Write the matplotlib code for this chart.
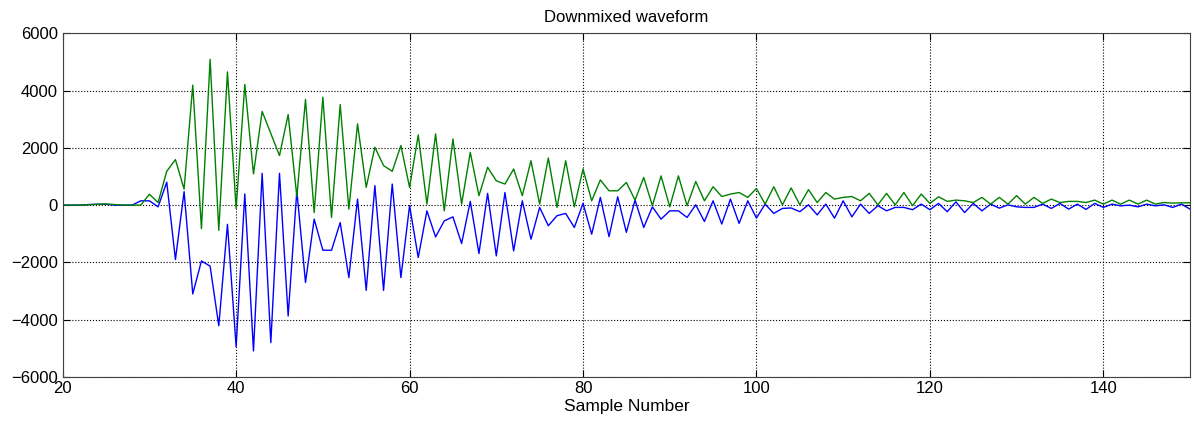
import matplotlib
matplotlib.use("Agg")
import matplotlib.pyplot as plt
import numpy as np

plt.rcParams['font.family'] = ['Liberation Sans', 'DejaVu Sans']

# sample index 20..150
samples = np.arange(20, 151)

# in chunks of samples
blue = (
    [0, 0, 0, 20, 30, 30, 0, 0, 0]                                       # 20-28
    + [150, 150, -60, 800, -1900, 470, -3100, -1950, -2130, -4210, -670,
       -4940, 390, -5090, 1110]                                           # 29-43
    + [-4800, 1110, -3870, 500, -2700, -490, -1575, -1575, -610, -2530,
       210, -2975, 680, -2975, 735, -2530, -20, -1830, -200]              # 44-62
    + [-1110, -550, -410, -1340, 130, -1690, 410, -1770, 440, -1600, 150,
       -1190, -80, -720, -370, -290, -780, 60, -1015, 270]                # 63-82
    + [-1100, 290, -950, 175, -780, -60, -490, -200, -200, -430, 10, -570,
       150, -660, 210, -640, 150, -450, 35, -290, -115, -100]             # 83-104
    + [-230, 10, -340, 35, -455, 150, -410, 35, -290, -20, -200, -80, -80,
       -160, 35, -160, 60, -230, 115, -260, 60]                           # 105-125
    + [-200, 35, -105, 10, -60, -80, -80, 35, -115, 60, -140, 35, -150, 60,
       -80, 35, -25, 0, -60, 35, -25, 10, -80, 35, -140]                  # 126-150
)

green = (
    [0, 0, 0, 10, 30, 40, 20, 0, 0]                                      # 20-28
    + [0, 380, 90, 1180, 1590, 560, 4190, -820, 5090, -880, 4650, -120,
       4210, 1090, 3270]                                                  # 29-43
    + [2500, 1730, 3160, 300, 3690, -260, 3770, -430, 3510, -140, 2835,
       620, 2020, 1380, 1180, 2080, 620, 2450, 35]                        # 44-62
    + [2485, -200, 2310, 35, 1840, 330, 1320, 850, 735, 1260, 330, 1550,
       35, 1645, -80, 1550, -60, 1260, 150, 880]                          # 63-82
    + [500, 500, 790, 175, 965, -20, 1020, -60, 1020, -20, 825, 150, 640,
       300, 385, 440, 270, 580, 35, 640, 10, 600]                         # 83-104
    + [10, 540, 90, 440, 210, 270, 300, 150, 410, 10, 410, 10, 440, -20,
       385, 60, 290, 130, 175, 150, 90]                                   # 105-125
    + [270, 35, 270, 35, 330, 35, 270, 60, 210, 90, 130, 130, 90, 175, 35,
       175, 35, 175, 35, 175, 35, 90, 70, 80, 80]                         # 126-150
)

fig = plt.figure(figsize=(11.94, 4.26), dpi=100)
ax = fig.add_axes([0.0525, 0.115, 0.9442, 0.807])

ax.plot(samples, blue, color=(0, 0, 1), lw=1.0)
ax.plot(samples, green, color=(0, 0.5, 0), lw=1.0)

ax.set_xlim(20, 150)
ax.set_ylim(-6000, 6000)
ax.set_xticks(np.arange(20, 151, 20))
ax.set_yticks(np.arange(-6000, 6001, 2000))
ax.grid(True, linestyle=':', color='black', linewidth=0.8)
ax.tick_params(direction='in', top=True, right=True, labelsize=12, length=5)
ax.tick_params(axis='x', pad=3)
for s in ax.spines.values():
    s.set_color('#404040')

ax.set_title('Downmixed waveform', fontsize=12, pad=8)
ax.set_xlabel('Sample Number', fontsize=12.5, labelpad=2)

fig.savefig('out.png', dpi=100)
